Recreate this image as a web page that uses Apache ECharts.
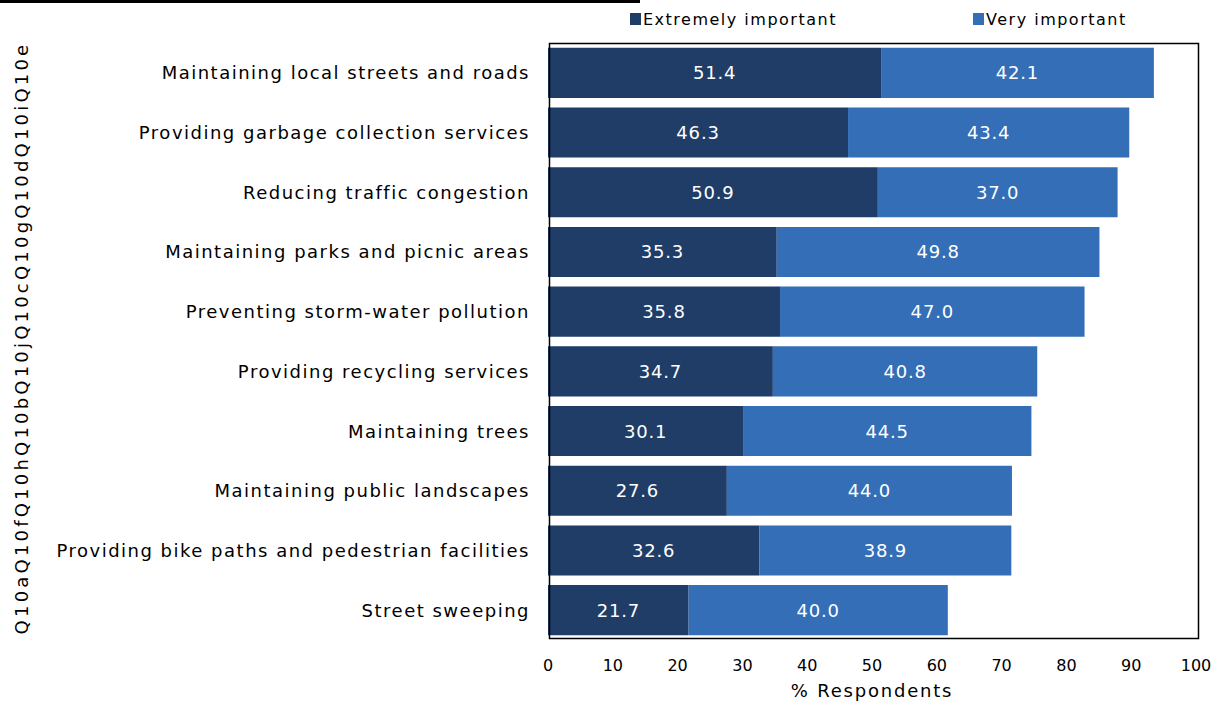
<!DOCTYPE html>
<html>
<head>
<meta charset="utf-8">
<script src="https://cdn.jsdelivr.net/npm/echarts@6/dist/echarts.min.js"></script>
<style>
  html, body { margin: 0; padding: 0; background: #ffffff; }
  #chart { width: 1222px; height: 702px; }
  /* tracking for the spaced text families (fallback names select the rule) */
  #chart text[style*="trkA"], #chart text[font-family*="trkA"] { letter-spacing: 1.5px; }
  #chart text[style*="trkB"], #chart text[font-family*="trkB"] { letter-spacing: 1.8px; }
  #chart text[style*="trkC"], #chart text[font-family*="trkC"] { letter-spacing: 3.2px; }
  #chart text[style*="trkD"], #chart text[font-family*="trkD"] { letter-spacing: 0.8px; }
</style>
</head>
<body>
<div id="chart"></div>
<script>
// Importance ratings of city services (% of respondents)
const categories = [
  'Maintaining local streets and roads',
  'Providing garbage collection services',
  'Reducing traffic congestion',
  'Maintaining parks and picnic areas',
  'Preventing storm-water pollution',
  'Providing recycling services',
  'Maintaining trees',
  'Maintaining public landscapes',
  'Providing bike paths and pedestrian facilities',
  'Street sweeping'
];
const extremelyImportant = [51.4, 46.3, 50.9, 35.3, 35.8, 34.7, 30.1, 27.6, 32.6, 21.7];
const veryImportant = [42.1, 43.4, 37.0, 49.8, 47.0, 40.8, 44.5, 44.0, 38.9, 40.0];
const seriesNames = ['Extremely important', 'Very important'];
const questionCodes = 'Q10aQ10fQ10hQ10bQ10jQ10cQ10gQ10dQ10iQ10e';
const xAxisTitle = '% Respondents';

const FONT = 'DejaVu Sans';
const FONT_A = '"DejaVu Sans", trkA';
const FONT_B = '"DejaVu Sans", trkB';
const FONT_C = '"DejaVu Sans", trkC';
const FONT_D = '"DejaVu Sans", trkD';
const DARK = '#1F3D67';
const LIGHT = '#336EB6';

const chart = echarts.init(document.getElementById('chart'), null, { renderer: 'svg' });

const barLabel = {
  show: true,
  position: 'inside',
  color: '#ffffff',
  fontFamily: FONT_D,
  fontSize: 18,
  formatter: p => p.value.toFixed(1)
};

const legendBase = {
  top: 6,
  itemWidth: 11,
  itemHeight: 12,
  icon: 'rect',
  textStyle: { fontFamily: FONT_A, fontSize: 16, color: '#000', padding: [0, 0, 0, -3] }
};

chart.setOption({
  animation: false,
  backgroundColor: '#ffffff',
  grid: { left: 548, right: 26, top: 43, bottom: 62, containLabel: false, outerBoundsMode: 'none' },
  legend: [
    Object.assign({}, legendBase, { left: 625, data: [seriesNames[0]] }),
    Object.assign({}, legendBase, { left: 968, data: [seriesNames[1]] })
  ],
  xAxis: {
    type: 'value',
    min: 0,
    max: 100,
    interval: 10,
    position: 'bottom',
    splitLine: { show: false },
    axisLine: { show: false },
    axisTick: { show: false },
    axisLabel: { fontFamily: FONT, fontSize: 16, color: '#000', margin: 17 },
    name: xAxisTitle,
    nameLocation: 'middle',
    nameGap: 41,
    nameTextStyle: { fontFamily: FONT_B, fontSize: 18, color: '#000' }
  },
  yAxis: {
    type: 'category',
    data: categories,
    inverse: true,
    axisLine: { show: false },
    axisTick: { show: false },
    axisLabel: { fontFamily: FONT_A, fontSize: 18, color: '#000', margin: 18 }
  },
  graphic: [
    // rule along the top-left edge
    { type: 'rect', left: 0, top: 0, shape: { width: 640, height: 3 }, style: { fill: '#000' } },
    // plot frame
    { type: 'rect', left: 547, top: 41, shape: { width: 649, height: 595 },
      style: { fill: 'none', stroke: '#000', lineWidth: 1.5 }, z: 10 },
    // rotated question codes down the left side
    { type: 'text', x: 21, y: 338, rotation: Math.PI / 2,
      style: { text: questionCodes, fontFamily: FONT_C, fontSize: 18, fill: '#000',
               align: 'center', verticalAlign: 'middle' } }
  ],
  series: [
    {
      name: seriesNames[0],
      type: 'bar',
      stack: 'total',
      barWidth: '84%',
      itemStyle: { color: DARK },
      label: barLabel,
      data: extremelyImportant
    },
    {
      name: seriesNames[1],
      type: 'bar',
      stack: 'total',
      barWidth: '84%',
      itemStyle: { color: LIGHT },
      label: barLabel,
      data: veryImportant
    }
  ]
});
</script>
</body>
</html>
